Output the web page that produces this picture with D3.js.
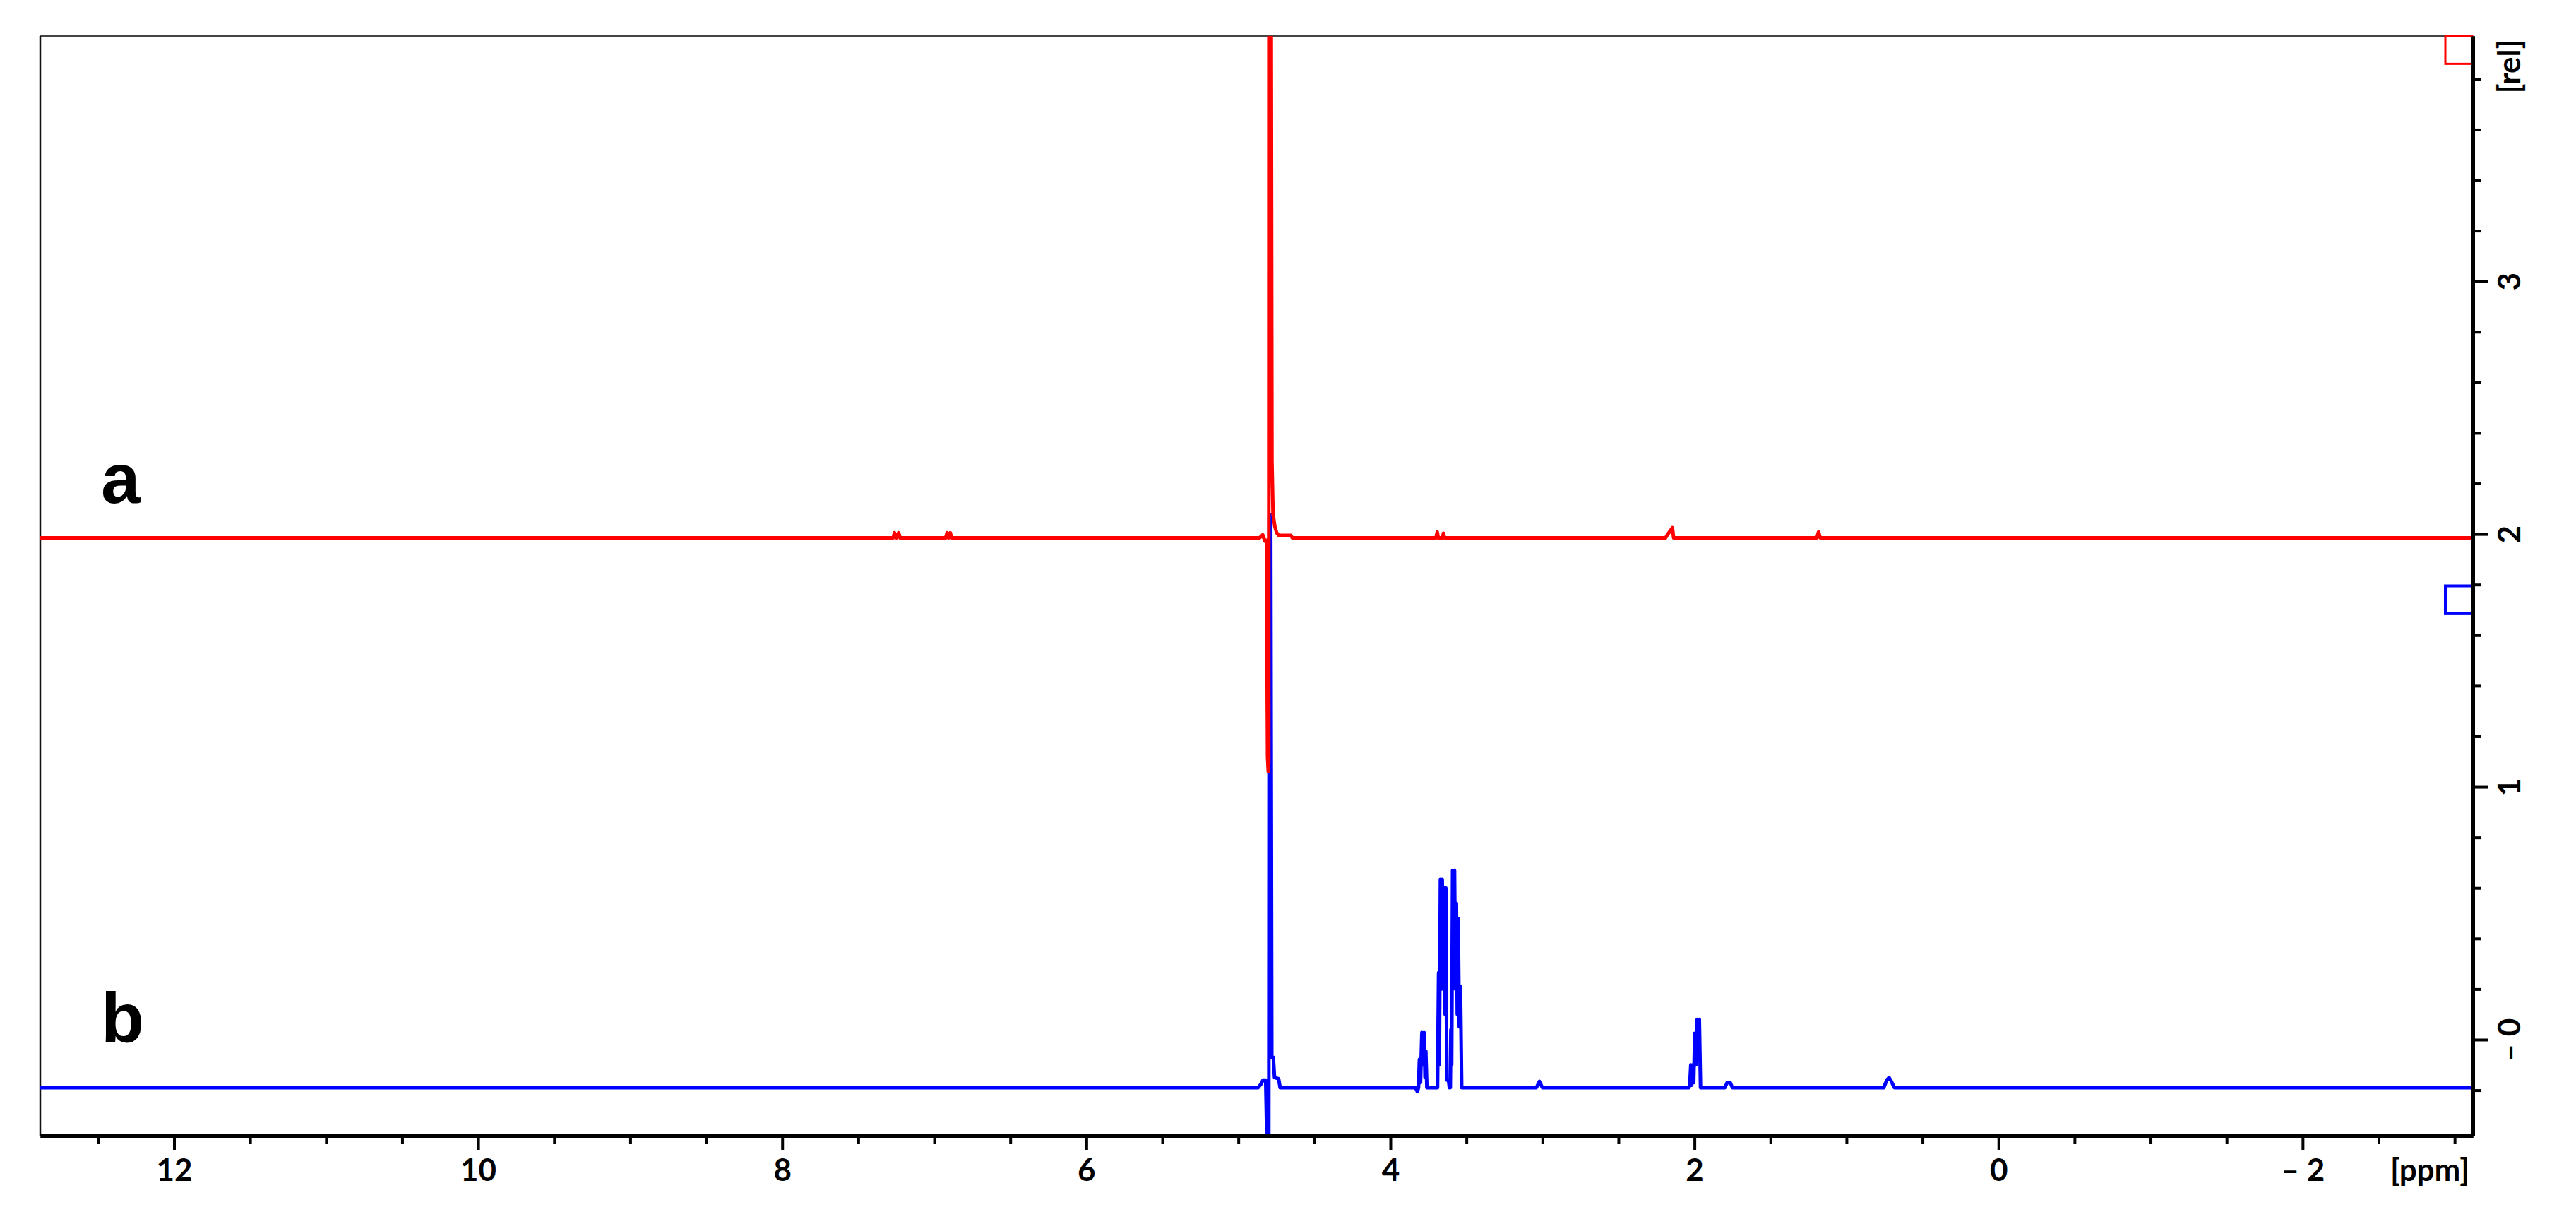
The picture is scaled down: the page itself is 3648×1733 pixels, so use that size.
<!DOCTYPE html>
<html>
<head>
<meta charset="utf-8">
<script src="https://cdn.jsdelivr.net/npm/d3@7"></script>
<style>
  html, body { margin: 0; padding: 0; background: #fff; }
  svg { display: block; }
</style>
</head>
<body>
<div id="root"></div>
<script>
// spectrum a (red): chemical shift [ppm] / relative intensity
const ppmA = [12.88, 7.27, 7.262, 7.248, 7.234, 7.225, 6.925, 6.916, 6.906, 6.895, 6.885,
  4.86, 4.84, 4.825, 4.815, 4.808, 4.803, 4.800, 4.799, 4.785, 4.779, 4.772, 4.76, 4.748, 4.735, 4.655, 4.645,
  3.70, 3.692, 3.685, 3.658, 3.651, 3.644, 2.19, 2.178, 2.145, 2.137, 1.195, 1.184, 1.173, -3.12];
const intA = [1.985, 1.985, 2.005, 1.985, 2.005, 1.985, 1.985, 2.005, 1.985, 2.005, 1.985,
  1.985, 1.997, 1.972, 1.975, 1.12, 1.06, 1.10, 4.5, 4.5, 2.29, 2.08, 2.03, 2.005, 1.995, 1.995, 1.985,
  1.985, 2.008, 1.985, 1.985, 2.003, 1.985, 1.985, 1.997, 2.025, 1.985, 1.985, 2.008, 1.985, 1.985];

// spectrum b (blue)
const ppmB = [12.88, 4.87, 4.85, 4.838, 4.82, 4.806, 4.80, 4.797, 4.787, 4.78, 4.77, 4.762, 4.735, 4.725,
  3.835, 3.823, 3.815, 3.809, 3.802, 3.793, 3.786, 3.778, 3.772, 3.767, 3.76,
  3.69, 3.683, 3.678, 3.671, 3.665, 3.659, 3.652, 3.646, 3.64, 3.635, 3.629, 3.618, 3.612,
  3.606, 3.602, 3.597, 3.591, 3.585, 3.578, 3.572, 3.566, 3.56, 3.554, 3.547, 3.539, 3.531,
  3.04, 3.02, 3.00,
  2.036, 2.03, 2.024, 2.018, 2.012, 2.005, 1.998, 1.99, 1.982, 1.975, 1.968, 1.96,
  1.80, 1.785, 1.765, 1.75, 0.755, 0.735, 0.72, 0.705, 0.685, -3.12];
const intB = [-0.19, -0.19, -0.175, -0.16, -0.16, -0.6, -0.6, 2.075, 2.075, -0.07, -0.07, -0.15, -0.155, -0.19,
  -0.19, -0.205, -0.19, -0.078, -0.17, 0.028, -0.10, 0.028, -0.15, -0.045, -0.19,
  -0.19, 0.265, -0.10, 0.634, 0.20, 0.634, 0.30, 0.60, 0.10, 0.60, -0.16, -0.16, -0.19,
  -0.19, 0.04, -0.10, 0.67, 0.30, 0.67, 0.20, 0.54, 0.10, 0.48, 0.05, 0.21, -0.19,
  -0.19, -0.165, -0.19,
  -0.19, -0.17, -0.10, -0.18, -0.10, -0.17, 0.025, -0.10, 0.08, -0.05, 0.08, -0.19,
  -0.19, -0.17, -0.17, -0.19, -0.19, -0.16, -0.15, -0.165, -0.19, -0.19];

const xMajorTicks = [12, 10, 8, 6, 4, 2, 0, -2];
const yMajorTicks = [0, 1, 2, 3];
const spectrumLabels = ["a", "b"];

const width = 3648, height = 1733;
const margin = { left: 57, top: 51, right: 146, bottom: 125 };
const innerW = width - margin.left - margin.right;
const innerH = height - margin.top - margin.bottom;

const svg = d3.select("#root").append("svg")
  .attr("width", width)
  .attr("height", height)
  .attr("viewBox", [0, 0, width, height]);

const x = d3.scaleLinear().domain([12.88, -3.12]).range([margin.left, margin.left + innerW]);
const y = d3.scaleLinear().domain([-0.38, 3.97]).range([margin.top + innerH, margin.top]);

// clip the spectra to the plot box
svg.append("clipPath").attr("id", "plotClip")
  .append("rect")
  .attr("x", margin.left).attr("y", margin.top)
  .attr("width", innerW).attr("height", innerH);

// frame (top + left thin lines)
svg.append("line")
  .attr("x1", margin.left).attr("x2", margin.left + innerW)
  .attr("y1", margin.top).attr("y2", margin.top)
  .attr("stroke", "#444").attr("stroke-width", 2);
svg.append("line")
  .attr("x1", margin.left).attr("x2", margin.left)
  .attr("y1", margin.top).attr("y2", margin.top + innerH)
  .attr("stroke", "#111").attr("stroke-width", 2.5);

// spectra - blue first, red drawn over it
const line = d3.line().x(d => x(d[0])).y(d => y(d[1]));
const spectra = [
  { ppm: ppmB, val: intB, color: "#0000ff" },
  { ppm: ppmA, val: intA, color: "#ff0000" }
];
const plot = svg.append("g").attr("clip-path", "url(#plotClip)");
spectra.forEach(s => {
  plot.append("path")
    .datum(s.ppm.map((p, i) => [p, s.val[i]]))
    .attr("fill", "none")
    .attr("stroke", s.color)
    .attr("stroke-width", 5)
    .attr("stroke-linejoin", "round")
    .attr("d", line);
});

// intensity scaling boxes at the right edge
const boxes = [
  { top: 3.97, bottom: 3.86, color: "#ff0000", sw: 3 },
  { top: 1.795, bottom: 1.685, color: "#0000ff", sw: 4 }
];
svg.selectAll("rect.scaleBox").data(boxes).enter().append("rect")
  .attr("class", "scaleBox")
  .attr("x", margin.left + innerW - 39)
  .attr("y", d => y(d.top))
  .attr("width", 38)
  .attr("height", d => y(d.bottom) - y(d.top))
  .attr("fill", "none")
  .attr("stroke", d => d.color)
  .attr("stroke-width", d => d.sw);

// letters a / b
const letterY = [712, 1476];
svg.selectAll("text.specLabel").data(spectrumLabels).enter().append("text")
  .attr("class", "specLabel")
  .attr("x", 143)
  .attr("y", (d, i) => letterY[i])
  .attr("font-family", "'Liberation Sans', Arial, sans-serif")
  .attr("font-weight", "bold")
  .attr("font-size", 100)
  .text(d => d);

const fmt = v => v < 0 ? "\u2013 " + Math.abs(v) : String(v);
const tickFont = "Lato, 'Open Sans', sans-serif";
const tickSize = 44;

// x axis
const xMinor = d3.range(-3, 12.6, 0.5).filter(v => v % 2 !== 0);
const xAxisG = svg.append("g").attr("transform", `translate(0, ${margin.top + innerH})`);
xAxisG.append("g").call(d3.axisBottom(x).tickValues(xMinor).tickSize(12).tickSizeOuter(0).tickFormat(""));
xAxisG.append("g").call(d3.axisBottom(x).tickValues(xMajorTicks).tickSize(20).tickSizeOuter(0).tickPadding(13).tickFormat(fmt));
xAxisG.selectAll(".domain").attr("stroke-width", 5).attr("stroke", "#000");
xAxisG.selectAll(".tick line").attr("stroke-width", 4).attr("stroke", "#000");
xAxisG.selectAll(".tick text")
  .attr("font-family", tickFont).attr("font-weight", "bold").attr("font-size", tickSize).attr("fill", "#000");
xAxisG.append("text")
  .attr("x", 3441).attr("y", 64)
  .attr("text-anchor", "middle")
  .attr("font-family", tickFont).attr("font-weight", "bold").attr("font-size", tickSize)
  .text("[ppm]");

// y axis (right)
const yMinor = d3.range(-1, 20).map(v => +(v * 0.2).toFixed(1)).filter(v => !yMajorTicks.includes(v));
const yAxisG = svg.append("g").attr("transform", `translate(${margin.left + innerW}, 0)`);
yAxisG.append("g").call(d3.axisRight(y).tickValues(yMinor).tickSize(12).tickSizeOuter(0).tickFormat(""));
yAxisG.append("g").call(d3.axisRight(y).tickValues(yMajorTicks).tickSize(21).tickSizeOuter(0)
  .tickFormat(v => v === 0 ? "\u2013 0" : String(v)));
yAxisG.selectAll(".domain").attr("stroke-width", 5).attr("stroke", "#000");
yAxisG.selectAll(".tick line").attr("stroke-width", 4).attr("stroke", "#000");
yAxisG.selectAll(".tick text")
  .attr("x", null).attr("dy", null)
  .attr("text-anchor", "middle")
  .attr("transform", "translate(67, 0) rotate(-90)")
  .attr("font-family", tickFont).attr("font-weight", "bold").attr("font-size", tickSize).attr("fill", "#000");
yAxisG.append("text")
  .attr("transform", `translate(67, ${margin.top + 43}) rotate(-90)`)
  .attr("text-anchor", "middle")
  .attr("font-family", tickFont).attr("font-weight", "bold").attr("font-size", tickSize)
  .text("[rel]");
</script>
</body>
</html>
